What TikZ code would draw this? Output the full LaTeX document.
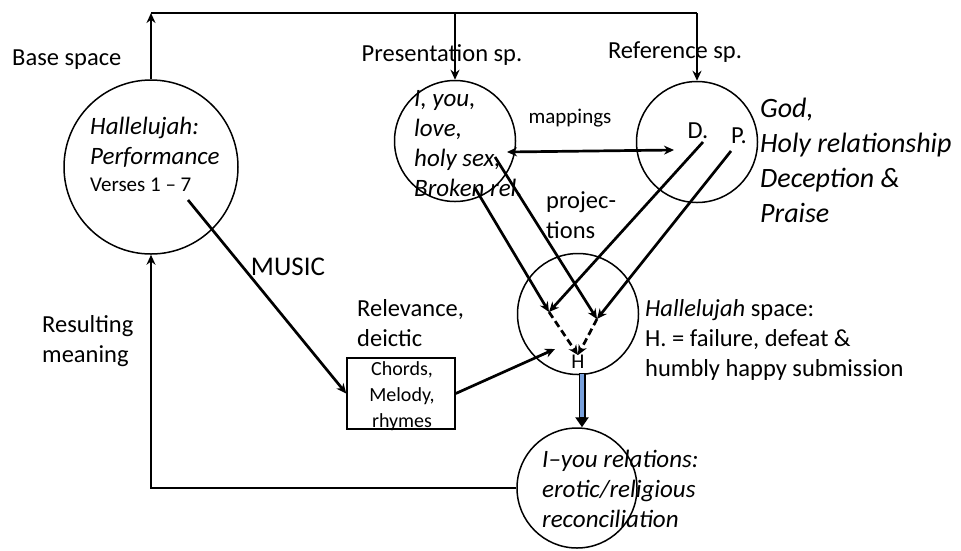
\documentclass[tikz,border=0pt]{standalone}
\usepackage{fontspec}
\setmainfont{Carlito}
\usetikzlibrary{arrows.meta}
\definecolor{bluefill}{RGB}{120,160,220}
\begin{document}
\begin{tikzpicture}[x=1pt,y=-1pt,
  circ/.style={circle,draw,line width=1.5pt,minimum size=#1,inner sep=0pt},
  conn/.style={line width=2.7pt,-{Stealth[length=10pt,width=9pt]}},
  plain/.style={line width=2.7pt},
  lbl/.style={font=\fontsize{24.5}{30}\selectfont,inner sep=0pt,align=left},
  ilbl/.style={font=\fontsize{25}{30}\selectfont\itshape,inner sep=0pt,align=left},
  biglbl/.style={font=\fontsize{28}{35}\selectfont\itshape,inner sep=0pt,align=left},
  smalllbl/.style={font=\fontsize{20}{26}\selectfont,inner sep=0pt,align=center},
  ]
\useasboundingbox (0,0) rectangle (961,550);
% circles and box
\node[circ=174pt] (base) at (151,167) {};
\node[circ=121pt] (pres) at (455,141) {};
\node[circ=121pt] (ref) at (697,142) {};
\node[circ=121pt] (hall) at (578,314) {};
\node[circ=120pt] (iyou) at (577,488) {};
\node[draw,line width=1.5pt,minimum width=108pt,minimum height=71pt,inner sep=0pt] (box) at (401,393.5) {};
% top loop
\coordinate (tl) at (base.north |- 0,13);
\coordinate (tr) at (ref.north |- 0,13);
\coordinate (tm) at (pres.north |- 0,13);
\draw[conn] (base.north) -- (tl);
\draw[plain] (tl) -- (tr);
\draw[conn] (tr) -- (ref.north);
\draw[conn] (tm) -- (pres.north);
% bottom loop
\coordinate (bl) at (base.south |- iyou.west);
\draw[conn] (iyou.west) -- (bl) -- (base.south);
% music
\coordinate (ms) at (188,200);
\draw[conn] (ms) -- (box.west);
\coordinate (hin) at (555,349);
\draw[conn] (box.east) -- (hin);
% mappings
\coordinate (mpl) at (507,152);
\coordinate (mpr) at (674,150);
\draw[line width=2.7pt,{Stealth[length=10pt,width=9pt]}-{Stealth[length=10pt,width=9pt]}] (mpl) -- (mpr);
% projections
\coordinate (pa) at (475,188);
\coordinate (pb) at (495,157);
\coordinate (rd) at (703,142);
\coordinate (rp) at (731,151);
\coordinate (ta) at (549,312);
\coordinate (tb) at (597,319);
\draw[conn] (pa) -- (ta);
\draw[conn] (rd) -- (ta);
\draw[conn] (pb) -- (tb);
\draw[conn] (rp) -- (tb);
\node[font=\fontsize{21}{24}\selectfont,inner sep=0pt] (H) at (578,362) {H};
\draw[conn,dash pattern=on 7pt off 4pt] (ta) -- (H.north);
\draw[conn,dash pattern=on 7pt off 4pt] (tb) -- (H.north);
% blue arrow
\coordinate (bt) at (582,373);
\coordinate (bb) at (bt |- iyou.north);
\draw[line width=7pt,-{Triangle[length=10pt,width=13pt]}] (bt) -- (bb);
\draw[line width=4.6pt,bluefill,shorten >=10pt,shorten <=0.8pt] (bt) -- (bb);
% labels
\node[lbl,anchor=west] (tbase) at (12,60) {Base space};
\node[lbl] (tpres) at (442,55) {Presentation sp.};
\node[lbl] (tref) at (675,52) {Reference sp.};
\node[smalllbl,font=\fontsize{21}{26}\selectfont] (tmap) at (570,118) {mappings};
\node[lbl] (tD) at (698,131) {D.};
\node[lbl] (tP) at (739,136) {P.};
\node[biglbl,anchor=west] (tgod) at (760,160) {God,\\Holy relationship\\Deception \&\\Praise};
\node[lbl,anchor=west] (tproj) at (546,215) {projec-\\tions};
\node[lbl,font=\fontsize{27}{30}\selectfont] (tmusic) at (288,267) {MUSIC};
\node[lbl,anchor=west] (trel) at (357,323) {Relevance,\\deictic};
\node[lbl,anchor=west] (tres) at (42,341) {Resulting\\meaning};
\node[smalllbl] (tbox) at (402,396) {Chords,\\Melody,\\rhymes};
\node[ilbl,anchor=west] (tbase1) at (90,142) {Hallelujah:\\Performance};
\node[lbl,anchor=west,font=\fontsize{21}{24}\selectfont] (tbase2) at (90,185) {Verses 1 – 7};
\node[ilbl,anchor=west] (tpresc) at (414,144) {I, you,\\love,\\holy sex,\\Broken rel.};
\node[lbl,anchor=west] (thall) at (645,340) {\textit{Hallelujah} space:\\H. = failure, defeat \&\\humbly happy submission};
\node[ilbl,anchor=west] (tiyou) at (542,489) {I–you relations:\\erotic/religious\\reconciliation};
\end{tikzpicture}
\end{document}
